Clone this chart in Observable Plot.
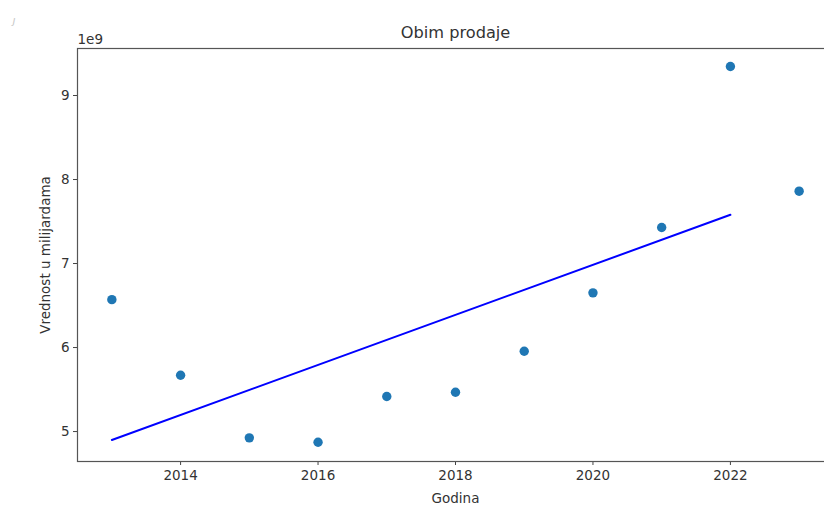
<!DOCTYPE html>
<html>
<head>
<meta charset="utf-8">
<script src="https://cdn.jsdelivr.net/npm/d3@7"></script>
<script src="https://cdn.jsdelivr.net/npm/@observablehq/plot@0.6"></script>
<style>
  html, body { margin: 0; padding: 0; background: white; overflow: hidden; width: 824px; height: 506px; }
</style>
</head>
<body>
<div id="chart"></div>
<script>
const years = [2013, 2014, 2015, 2016, 2017, 2018, 2019, 2020, 2021, 2022, 2023];
const values = [6.57e9, 5.67e9, 4.925e9, 4.873e9, 5.417e9, 5.468e9, 5.956e9, 6.651e9, 7.429e9, 9.345e9, 7.861e9];
const trendYears = [2013, 2022];
const trendValues = [4.90e9, 7.58e9];
const xTicks = [2014, 2016, 2018, 2020, 2022];
const yTicks = [5e9, 6e9, 7e9, 8e9, 9e9];
const title = "Obim prodaje";
const xLabel = "Godina";
const yLabel = "Vrednost u milijardama";
const exponentLabel = "1e9";

const points = years.map((year, i) => ({year, value: values[i]}));
const trend = trendYears.map((year, i) => ({year, value: trendValues[i]}));

const fmtX = d => String(d);
const fmtY = d => String(Math.round(d / 1e9));

const chart = Plot.plot({
  width: 840,
  height: 506,
  marginTop: 48,
  marginBottom: 45,
  marginLeft: 77,
  marginRight: 7,
  style: {fontFamily: "'DejaVu Sans', sans-serif", fontSize: "13.5px", color: "#333", background: "white", maxWidth: "none", overflow: "hidden"},
  x: {domain: [2012.5, 2023.5], label: null},
  y: {domain: [4.6435e9, 9.5595e9], label: null},
  marks: [
    Plot.axisX({ticks: xTicks, tickFormat: fmtX, tickSize: 4, tickPadding: 5, label: null, stroke: "#444", fill: "#333"}),
    Plot.axisY({ticks: yTicks, tickFormat: fmtY, tickSize: 4, tickPadding: 4, label: null, stroke: "#444", fill: "#333"}),
    Plot.frame({stroke: "#555", strokeWidth: 1.2}),
    Plot.line(trend, {x: "year", y: "value", stroke: "#0000ff", strokeWidth: 2}),
    Plot.dot(points, {x: "year", y: "value", r: 4.7, fill: "#1f77b4", stroke: "none"}),
    Plot.text([title], {text: d => d, frameAnchor: "top", lineAnchor: "bottom", dy: -11, fontSize: 16.2, fill: "#333"}),
    Plot.text([exponentLabel], {text: d => d, frameAnchor: "top-left", textAnchor: "start", lineAnchor: "bottom", dy: -5, fill: "#333"}),
    Plot.text([xLabel], {text: d => d, frameAnchor: "bottom", lineAnchor: "middle", dy: 37, fill: "#333"}),
    Plot.text([yLabel], {text: d => d, frameAnchor: "left", textAnchor: "middle", lineAnchor: "middle", rotate: -90, dx: -32, fill: "#333"}),
    Plot.text(["ȷ"], {text: d => d, frameAnchor: "top-left", dx: -65, dy: -32, fontSize: 11, fill: "#c8c8c8", fontStyle: "italic"})
  ]
});
document.getElementById("chart").appendChild(chart);
</script>
</body>
</html>
